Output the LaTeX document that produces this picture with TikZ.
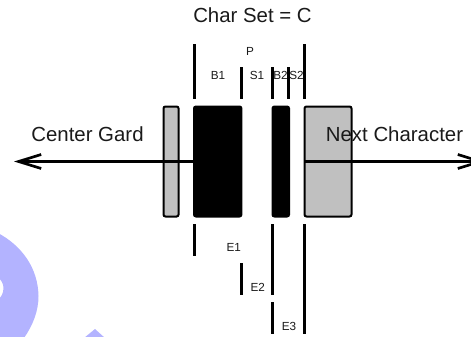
\documentclass[tikz,border=0pt]{standalone}
\usepackage{xcolor}
\usepackage{fontspec}
\setmainfont{Liberation Sans}
\usetikzlibrary{arrows.meta}
\definecolor{barblack}{HTML}{000000}
\definecolor{guardgray}{HTML}{C0C0C0}
\definecolor{markblue}{HTML}{B3B3FF}
\definecolor{inktext}{HTML}{1A1A1A}
\tikzset{
  ar/.style={-{Straight Barb[length=17pt,width=10.5pt,line width=2pt]},line width=2.2pt,barblack},
  tickline/.style={line width=1.9pt,barblack},
  bar/.style={draw=barblack,line width=1.5pt,rounded corners=1.5pt,inner sep=0pt,outer sep=0pt,anchor=north west},
  biglabel/.style={font=\fontsize{15.3}{15.3}\selectfont,text=inktext,inner sep=0pt},
  smalllabel/.style={font=\fontsize{8.8}{8.8}\selectfont,text=inktext,inner sep=0pt}
}
\begin{document}
\begin{tikzpicture}[x=0.75pt,y=-0.75pt]
\useasboundingbox (0,0) rectangle (471,336);
% backdrop mark
\fill[markblue] (-2,233) .. controls (22,246) and (38,268) .. (38.5,296) .. controls (38.5,311) and (33,325) .. (24,338) -- (-2,338) -- (-2,299) .. controls (1,298) and (3.5,293) .. (3.5,288) .. controls (3.5,284) and (1,279) .. (-2,278) -- cycle;
\fill[markblue] (84,338) -- (95,329) -- (105,338) -- cycle;
% bars
\node[bar,fill=guardgray,minimum width=11.3pt,minimum height=82.5pt] (guard) at (163.5,106.5) {};
\node[bar,fill=barblack,minimum width=35.6pt,minimum height=82.5pt] (b1) at (194,106.5) {};
\node[bar,fill=barblack,minimum width=12.4pt,minimum height=82.5pt] (b2) at (272.5,106.5) {};
\node[bar,fill=guardgray,minimum width=35.25pt,minimum height=82.5pt] (next) at (304.5,106.5) {};
% arrows
\coordinate (lefttip) at (14,161.5);
\coordinate (righttip) at (485,161.5);
\draw[ar] (b1.west |- lefttip) -- (lefttip);
\draw[ar] (next.west |- righttip) -- (righttip);
% ticks above and below
\foreach \tname/\tx/\tya/\tyb in {ta/194.5/44/99,tb/241.5/67/99,tc/272.5/67/99,td/288.5/67/99,te/304.5/44/99,
  ba/194.5/224/256,bb/241.5/263/295,bc/272.5/224/295,bd/272.5/302/334,be/304.5/224/334}{
  \coordinate (\tname1) at (\tx,\tya);
  \coordinate (\tname2) at (\tx,\tyb);
  \draw[tickline] (\tname1) -- (\tname2);
}
% labels
\node[biglabel] (title) at (252.5,15.5) {Char Set = C};
\node[biglabel] (cg) at (87.5,134) {Center Gard};
\node[biglabel] (nc) at (394.5,134) {Next Character};
\node[smalllabel] (p) at (250,51) {P};
\node[smalllabel] (lb1) at (218,75.5) {B1};
\node[smalllabel] (ls1) at (257,75.5) {S1};
\node[smalllabel] (lb2) at (280.5,75.5) {B2};
\node[smalllabel] (ls2) at (296.5,75.5) {S2};
\node[smalllabel] (e1) at (233.7,247) {E1};
\node[smalllabel] (e2) at (257.7,287) {E2};
\node[smalllabel] (e3) at (289,326) {E3};
\end{tikzpicture}
\end{document}
